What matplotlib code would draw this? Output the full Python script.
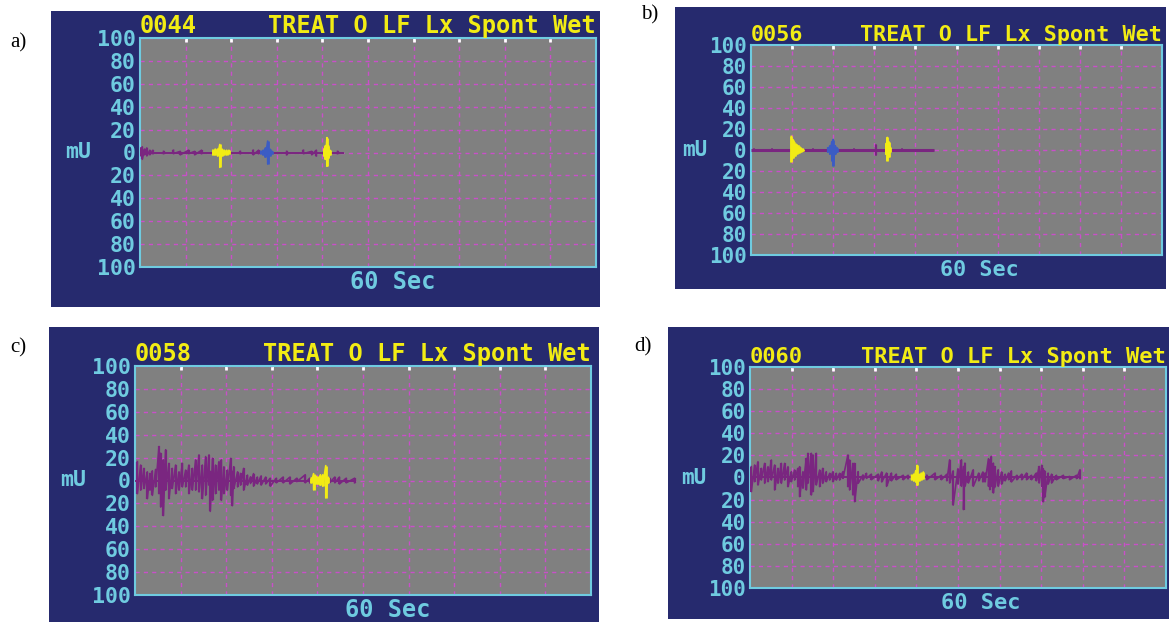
import matplotlib.pyplot as plt

W, H = 1169, 623

# shared screen furniture
y_ticks = [100, 80, 60, 40, 20, 0, -20, -40, -60, -80, -100]
y_labels = [str(abs(v)) for v in y_ticks]
x_grid = [6, 12, 18, 24, 30, 36, 42, 48, 54]
codes = ["0044", "0056", "0058", "0060"]
tags = ["a)", "b)", "c)", "d)"]
header = "TREAT O LF Lx Spont Wet"

# ---- panel a (time in s, amplitude in mV) ----
a_end = 26.8
a_pt = [0.0, 0.3, 0.6, 0.9, 1.3, 1.7, 3.1, 4.4, 5.3, 6.4, 7.2, 8.1, 13.2, 14.9, 15.6, 19.3, 21.5, 22.6, 23.2, 26.0]
a_phi = [4, 5, 3, 4, 2, 2, 1, 2, 1, 2, 1, 2, 1, 2, 2, 1, 2, 1, 2, 1]
a_plo = [-3, -6, -2, -3, -2, -1, -1, -1, -2, -1, -2, -1, -1, -2, -1, -2, -1, -2, -3, -1]
a_yt = [9.6, 9.9, 10.2, 10.5, 10.8, 11.1, 11.4, 11.7, 24.2, 24.4, 24.6, 24.8, 25.0]
a_yhi = [2, 3, 3, 7, 3, 2, 2, 2, 3, 6, 13, 6, 2]
a_ylo = [-2, -2, -3, -13, -3, -2, -2, -1, -3, -6, -12, -5, -2]
a_bt = [15.9, 16.2, 16.5, 16.8, 17.1, 17.4]
a_bhi = [1, 2, 4, 10, 3, 1]
a_blo = [-1, -2, -4, -10, -3, -1]

# ---- panel b ----
b_end = 26.7
b_pt = [0.5, 3.0, 9.0, 15.0, 18.3, 22.0]
b_phi = [1, 1, 1, 1, 5, 1]
b_plo = [-1, -1, -1, -1, -5, -1]
b_yt = [5.9, 6.1, 6.4, 6.7, 7.0, 7.3, 7.6, 19.7, 19.9, 20.1, 20.3]
b_yhi = [13, 10, 7, 5, 4, 2, 1, 6, 12, 8, 3]
b_ylo = [-11, -8, -6, -4, -3, -2, -1, -4, -10, -7, -2]
b_bt = [11.2, 11.5, 11.8, 12.0, 12.3, 12.6]
b_bhi = [2, 4, 8, 10, 4, 2]
b_blo = [-2, -4, -10, -15, -4, -2]

# ---- panel c ----
c_end = 29.1
c_pt = [0.31, 0.75, 1.18, 1.62, 1.97, 2.28, 2.72, 3.16, 3.38, 3.73, 4.04, 4.47, 4.9, 5.35,
        5.79, 6.23, 6.67, 7.1, 7.55, 7.98, 8.42, 8.86, 9.3, 9.74, 9.9, 10.2, 10.6, 11.05,
        11.36, 11.7, 12.15, 12.6, 12.8, 13.0, 13.5, 13.9, 14.3, 14.8, 15.2, 15.6, 16.1,
        16.6, 17.2, 17.8, 18.6, 19.5, 20.4, 21.3, 22.4, 23.0, 25.6, 26.3, 26.9, 27.8, 28.9]
c_phi = [16.5, 13.5, 10.6, 7.6, 6.2, 8.5, 9.7, 29.7, 23.8, 18, 26.8, 15, 10.6, 13.5,
         7.6, 15, 9.1, 13.5, 10.6, 18, 22.4, 13.5, 20.9, 22.4, 8, 19.4, 13.5, 16.5,
         18, 12, 9.1, 19.4, 8, 12, 7.6, 6.2, 10.6, 4.7, 3.2, 6, 3,
         4, 3, 2, 2, 3, 3, 2, 5, 2, 2, 3, 3, 2, 2]
c_plo = [-11.5, -8.5, -7, -15.9, -8.5, -13, -5.6, -11.5, -23.2, -30.6, -8.5, -15.9, -7, -11.5,
         -8.5, -5.6, -5.6, -11.5, -8.5, -8.5, -10, -15.9, -13, -4.1, -27, -17.4, -11.5, -8.5,
         -17.4, -11.5, -8.5, -13, -22, -7, -5.6, -4.1, -8.5, -4.1, -2.6, -5, -3,
         -4, -3, -5, -2, -2, -3, -1, -2, -2, -2, -2, -3, -2, -2]
c_yt = [23.2, 23.5, 23.8, 24.1, 24.4, 24.7, 25.1, 25.4]
c_yhi = [2, 6, 4, 3, 5, 5, 13, 3]
c_ylo = [-2, -8, -3, -3, -4, -5, -15, -2]
c_bt, c_bhi, c_blo = [], [], []

# ---- panel d ----
d_end = 47.6
d_pt = [0.19, 0.67, 1.15, 1.63, 2.12, 2.6, 3.08, 3.56, 4.04, 4.52, 5.0, 5.48, 5.96, 6.44,
        6.92, 7.16, 7.64, 8.12, 8.36, 8.84, 9.08, 9.56, 10.05, 10.5, 11.0, 11.5, 11.97,
        12.45, 12.93, 13.4, 14.13, 14.37, 14.85, 15.1, 15.6, 16.3, 16.8, 17.5, 18.5, 19.0,
        19.7, 20.4, 21.1, 22.1, 22.8, 25.5, 26.7, 27.6, 28.4, 28.8, 29.3, 30.0, 30.5, 30.8,
        31.0, 31.5, 32.2, 33.0, 33.6, 33.9, 34.4, 34.6, 34.8, 35.1, 35.3, 35.8, 36.3, 36.8,
        37.3, 37.7, 38.5, 39.2, 39.9, 40.6, 41.3, 41.7, 42.1, 42.3, 42.5, 43.0, 43.5, 44.2,
        45.2, 46.1, 47.1, 47.6]
d_phi = [9.8, 11.3, 14.3, 8.3, 12.8, 9.8, 15.8, 11.3, 8.3, 12.8, 12.8, 9.8, 5.3, 6.8,
         8.3, 9.8, 5.3, 17.3, 21.9, 21.9, 20.4, 21.9, 6.8, 8.3, 5.3, 3.8, 5.3,
         3.8, 3.8, 5.3, 20.4, 15.8, 12.8, 12.8, 5.3, 2.3, 3.8, 3, 3, 5,
         4, 4, 3, 2, 2, 2, 4, 2, 3, 16, 6, 8, 16, 10,
         13, 5, 7, 4, 5, 4, 17, 15, 19, 13, 10, 7, 5, 3,
         4, 6, 2, 3, 4, 2, 4, 10, 11, 8, 6, 4, 3, 2,
         2, 1, 2, 7]
d_plo = [-12.8, -3.8, -6.8, -2.3, -5.3, -3.8, -2.3, -11.3, -5.3, -5.3, -2.3, -8.3, -3.8, -2.3,
         -8.3, -17.3, -9.8, -11.3, -5.3, -15.8, -12.8, -6.8, -8.3, -5.3, -3.8, -2.3, -3.8,
         -2.3, -2.3, -0.8, -8.3, -11.3, -15.8, -21.9, -5.3, -2.3, -0.8, -2, -3, -4,
         -8, -3, -2, -2, -1, -2, -2, -2, -3, -5, -25, -6, -8, -29,
         -8, -5, -8, -3, -4, -4, -8, -11, -8, -14, -9, -8, -6, -3,
         -2, -4, -2, -2, -2, -2, -3, -5, -8, -22, -18, -6, -5, -2,
         -1, -2, -1, -1]
d_yt = [23.3, 23.6, 23.9, 24.1, 24.4, 24.7, 25.0]
d_yhi = [2, 3, 6, 11, 3, 4, 5]
d_ylo = [-2, -3, -4, -7, -3, -2, -1]
d_bt, d_bhi, d_blo = [], [], []

NAVY = "#262a6e"
GREY = "#808080"
CYAN = "#6fcbe0"
YELLOW = "#f2ec14"
MAGENTA = "#c94fc9"
PURPLE = "#7a2680"
BLUE = "#3b5cc4"
MONO = "DejaVu Sans Mono"

# pixel boxes: blue screen, grey plotting area, font sizes, baseline width
panels = [
    dict(blue=(51, 11, 600, 307), grey=(140, 38, 596, 267), fs=15.5, tfs=17, mu=62, tag=(10, 43), base=1.4,
         end=a_end, p=(a_pt, a_phi, a_plo), y=(a_yt, a_yhi, a_ylo), b=(a_bt, a_bhi, a_blo)),
    dict(blue=(675, 7, 1166, 289), grey=(751, 45, 1162, 255), fs=15, tfs=15.7, mu=56, tag=(641, 15), base=2.2,
         end=b_end, p=(b_pt, b_phi, b_plo), y=(b_yt, b_yhi, b_ylo), b=(b_bt, b_bhi, b_blo)),
    dict(blue=(49, 327, 599, 622), grey=(135, 366, 591, 595), fs=15.5, tfs=17, mu=62, tag=(10, 348), base=1.4,
         end=c_end, p=(c_pt, c_phi, c_plo), y=(c_yt, c_yhi, c_ylo), b=(c_bt, c_bhi, c_blo)),
    dict(blue=(668, 327, 1169, 619), grey=(750, 367, 1166, 588), fs=15, tfs=15.8, mu=56, tag=(634, 347), base=1.4,
         end=d_end, p=(d_pt, d_phi, d_plo), y=(d_yt, d_yhi, d_ylo), b=(d_bt, d_bhi, d_blo)),
]


def rect(x0, y0, x1, y1):
    return [x0 / W, 1 - y1 / H, (x1 - x0) / W, (y1 - y0) / H]


def zigzag(ax, t, hi, lo, color, lw, z, gap=1.2):
    # each spike drawn hi -> lo and joined to the next one; a long pause breaks the line
    xs, ys = [], []
    prev = None
    for tt, h, l in zip(t, hi, lo):
        if prev is not None and tt - prev > gap:
            xs.append(float("nan"))
            ys.append(float("nan"))
        xs += [tt, tt]
        ys += [h, l]
        prev = tt
    if xs:
        ax.plot(xs, ys, color=color, lw=lw, zorder=z)


fig = plt.figure(figsize=(W / 100, H / 100), dpi=100, facecolor="white")

for i, pn in enumerate(panels):
    bg = fig.add_axes(rect(*pn["blue"]))
    bg.set_facecolor(NAVY)
    bg.set_xticks([])
    bg.set_yticks([])
    for s in bg.spines.values():
        s.set_visible(False)

    g = pn["grey"]
    ax = fig.add_axes(rect(*g))
    ax.set_facecolor(GREY)
    ax.set_xlim(0, 60)
    ax.set_ylim(-100, 100)
    ax.set_xticks(x_grid)
    ax.set_yticks(y_ticks)
    ax.set_yticklabels(y_labels, family=MONO, weight="bold")
    ax.grid(color=MAGENTA, linestyle=(0, (3, 3)), linewidth=1)
    ax.tick_params(axis="x", bottom=False, labelbottom=False, top=True,
                   direction="in", length=3, width=2, color="white")
    ax.tick_params(axis="y", length=0, pad=3, labelcolor=CYAN, labelsize=pn["fs"])
    for s in ax.spines.values():
        s.set_color(CYAN)
        s.set_linewidth(1.5)

    # trace
    ax.plot([0, pn["end"]], [0, 0], color=PURPLE, lw=pn["base"], solid_capstyle="butt", zorder=3)
    zigzag(ax, *pn["p"], PURPLE, 1.2, 3)
    ax.vlines(*pn["p"], color=PURPLE, lw=1.6, zorder=3)
    zigzag(ax, *pn["b"], BLUE, 1.2, 4)
    ax.vlines(*pn["b"], color=BLUE, lw=2.0, zorder=4)
    zigzag(ax, *pn["y"], YELLOW, 1.2, 4)
    ax.vlines(*pn["y"], color=YELLOW, lw=2.0, zorder=4)

    ax.text(0, 1.0, codes[i], transform=ax.transAxes, ha="left", va="bottom",
            color=YELLOW, fontsize=pn["tfs"], family=MONO, weight="bold")
    ax.text(1, 1.0, header, transform=ax.transAxes, ha="right", va="bottom",
            color=YELLOW, fontsize=pn["tfs"], family=MONO, weight="bold")

    fig.text((g[0] - pn["mu"]) / W, 1 - ((g[1] + g[3]) / 2) / H, "mU", ha="center", va="center",
             color=CYAN, fontsize=pn["fs"], family=MONO, weight="bold")
    fig.text((g[0] + 0.46 * (g[2] - g[0])) / W, 1 - (g[3] + 15) / H, "60 Sec", ha="left", va="center",
             color=CYAN, fontsize=pn["tfs"], family=MONO, weight="bold")
    fig.text(pn["tag"][0] / W, 1 - pn["tag"][1] / H, tags[i], ha="left", va="center",
             color="black", fontsize=15, family="Liberation Serif")

fig.savefig("out.png", dpi=100)
